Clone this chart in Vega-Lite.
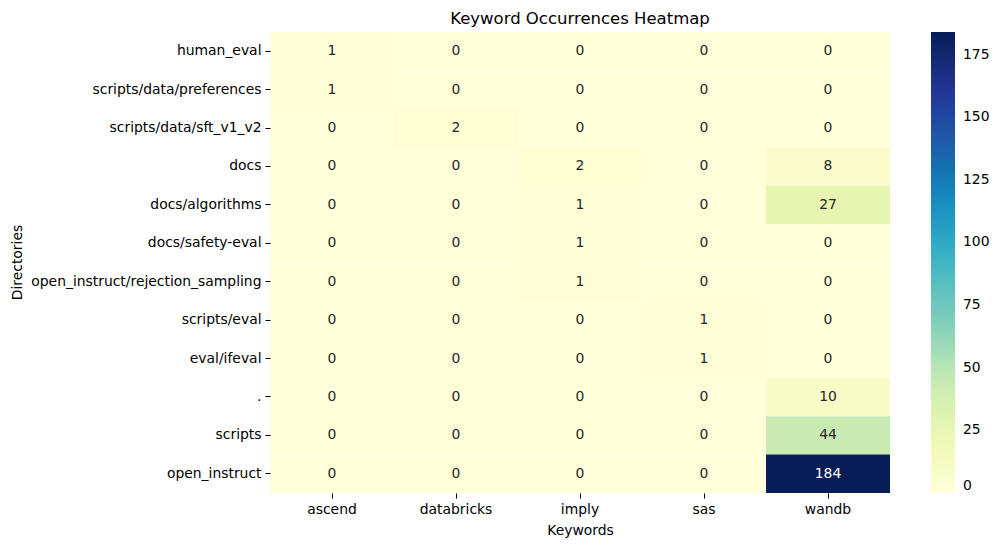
{
  "$schema": "https://vega.github.io/schema/vega-lite/v6.json",
  "title": {
    "text": "Keyword Occurrences Heatmap",
    "fontSize": 16.5,
    "fontWeight": "normal",
    "color": "#000000",
    "offset": 5
  },
  "autosize": {"type": "none"},
  "padding": {"left": 270, "top": 32, "right": 107, "bottom": 54},
  "width": 620,
  "height": 461,
  "background": "#ffffff",
  "config": {
    "font": "DejaVu Sans",
    "view": {"stroke": null}
  },
  "data": {
    "values": [
      {"dir": "human_eval", "keyword": "ascend", "count": 1},
      {"dir": "human_eval", "keyword": "databricks", "count": 0},
      {"dir": "human_eval", "keyword": "imply", "count": 0},
      {"dir": "human_eval", "keyword": "sas", "count": 0},
      {"dir": "human_eval", "keyword": "wandb", "count": 0},
      {"dir": "scripts/data/preferences", "keyword": "ascend", "count": 1},
      {"dir": "scripts/data/preferences", "keyword": "databricks", "count": 0},
      {"dir": "scripts/data/preferences", "keyword": "imply", "count": 0},
      {"dir": "scripts/data/preferences", "keyword": "sas", "count": 0},
      {"dir": "scripts/data/preferences", "keyword": "wandb", "count": 0},
      {"dir": "scripts/data/sft_v1_v2", "keyword": "ascend", "count": 0},
      {"dir": "scripts/data/sft_v1_v2", "keyword": "databricks", "count": 2},
      {"dir": "scripts/data/sft_v1_v2", "keyword": "imply", "count": 0},
      {"dir": "scripts/data/sft_v1_v2", "keyword": "sas", "count": 0},
      {"dir": "scripts/data/sft_v1_v2", "keyword": "wandb", "count": 0},
      {"dir": "docs", "keyword": "ascend", "count": 0},
      {"dir": "docs", "keyword": "databricks", "count": 0},
      {"dir": "docs", "keyword": "imply", "count": 2},
      {"dir": "docs", "keyword": "sas", "count": 0},
      {"dir": "docs", "keyword": "wandb", "count": 8},
      {"dir": "docs/algorithms", "keyword": "ascend", "count": 0},
      {"dir": "docs/algorithms", "keyword": "databricks", "count": 0},
      {"dir": "docs/algorithms", "keyword": "imply", "count": 1},
      {"dir": "docs/algorithms", "keyword": "sas", "count": 0},
      {"dir": "docs/algorithms", "keyword": "wandb", "count": 27},
      {"dir": "docs/safety-eval", "keyword": "ascend", "count": 0},
      {"dir": "docs/safety-eval", "keyword": "databricks", "count": 0},
      {"dir": "docs/safety-eval", "keyword": "imply", "count": 1},
      {"dir": "docs/safety-eval", "keyword": "sas", "count": 0},
      {"dir": "docs/safety-eval", "keyword": "wandb", "count": 0},
      {"dir": "open_instruct/rejection_sampling", "keyword": "ascend", "count": 0},
      {"dir": "open_instruct/rejection_sampling", "keyword": "databricks", "count": 0},
      {"dir": "open_instruct/rejection_sampling", "keyword": "imply", "count": 1},
      {"dir": "open_instruct/rejection_sampling", "keyword": "sas", "count": 0},
      {"dir": "open_instruct/rejection_sampling", "keyword": "wandb", "count": 0},
      {"dir": "scripts/eval", "keyword": "ascend", "count": 0},
      {"dir": "scripts/eval", "keyword": "databricks", "count": 0},
      {"dir": "scripts/eval", "keyword": "imply", "count": 0},
      {"dir": "scripts/eval", "keyword": "sas", "count": 1},
      {"dir": "scripts/eval", "keyword": "wandb", "count": 0},
      {"dir": "eval/ifeval", "keyword": "ascend", "count": 0},
      {"dir": "eval/ifeval", "keyword": "databricks", "count": 0},
      {"dir": "eval/ifeval", "keyword": "imply", "count": 0},
      {"dir": "eval/ifeval", "keyword": "sas", "count": 1},
      {"dir": "eval/ifeval", "keyword": "wandb", "count": 0},
      {"dir": ".", "keyword": "ascend", "count": 0},
      {"dir": ".", "keyword": "databricks", "count": 0},
      {"dir": ".", "keyword": "imply", "count": 0},
      {"dir": ".", "keyword": "sas", "count": 0},
      {"dir": ".", "keyword": "wandb", "count": 10},
      {"dir": "scripts", "keyword": "ascend", "count": 0},
      {"dir": "scripts", "keyword": "databricks", "count": 0},
      {"dir": "scripts", "keyword": "imply", "count": 0},
      {"dir": "scripts", "keyword": "sas", "count": 0},
      {"dir": "scripts", "keyword": "wandb", "count": 44},
      {"dir": "open_instruct", "keyword": "ascend", "count": 0},
      {"dir": "open_instruct", "keyword": "databricks", "count": 0},
      {"dir": "open_instruct", "keyword": "imply", "count": 0},
      {"dir": "open_instruct", "keyword": "sas", "count": 0},
      {"dir": "open_instruct", "keyword": "wandb", "count": 184}
    ]
  },
  "encoding": {
    "x": {
      "field": "keyword",
      "type": "nominal",
      "sort": ["ascend", "databricks", "imply", "sas", "wandb"],
      "title": "Keywords",
      "scale": {"paddingInner": 0, "paddingOuter": 0},
      "axis": {
        "labelAngle": 0,
        "domain": false,
        "ticks": true,
        "tickColor": "#000000",
        "tickSize": 5,
        "labelPadding": 4,
        "labelFontSize": 13.9,
        "labelColor": "#000000",
        "titleFontSize": 13.9,
        "titleFontWeight": "normal",
        "titleColor": "#000000",
        "titlePadding": 8
      }
    },
    "y": {
      "field": "dir",
      "type": "nominal",
      "sort": [
        "human_eval",
        "scripts/data/preferences",
        "scripts/data/sft_v1_v2",
        "docs",
        "docs/algorithms",
        "docs/safety-eval",
        "open_instruct/rejection_sampling",
        "scripts/eval",
        "eval/ifeval",
        ".",
        "scripts",
        "open_instruct"
      ],
      "title": "Directories",
      "scale": {"paddingInner": 0, "paddingOuter": 0},
      "axis": {
        "domain": false,
        "ticks": true,
        "tickColor": "#000000",
        "tickSize": 5,
        "labelPadding": 4,
        "labelFontSize": 13.9,
        "labelColor": "#000000",
        "labelLimit": 400,
        "titleFontSize": 13.9,
        "titleFontWeight": "normal",
        "titleColor": "#000000",
        "titleX": -253,
        "titleY": 230,
        "titleAngle": -90,
        "titleAlign": "center",
        "titleBaseline": "middle"
      }
    }
  },
  "layer": [
    {
      "mark": {"type": "rect", "strokeWidth": 0},
      "encoding": {
        "color": {
          "field": "count",
          "type": "quantitative",
          "scale": {
            "domain": [0, 23, 46, 69, 92, 115, 138, 161, 184],
            "range": ["#ffffd9", "#edf8b1", "#c7e9b4", "#7fcdbb", "#41b6c4", "#1d91c0", "#225ea8", "#253494", "#081d58"]
          },
          "legend": {
            "title": null,
            "orient": "right",
            "offset": 41,
            "padding": 0,
            "direction": "vertical",
            "gradientLength": 461,
            "gradientThickness": 24,
            "gradientStrokeWidth": 0,
            "values": [0, 25, 50, 75, 100, 125, 150, 175],
            "labelFontSize": 13.9,
            "labelColor": "#000000",
            "labelOffset": 8,
            "labelBaseline": "middle",
            "labelOverlap": false
          }
        }
      }
    },
    {
      "mark": {"type": "text", "fontSize": 13.9},
      "encoding": {
        "text": {"field": "count", "type": "quantitative"},
        "color": {
          "condition": {"test": "datum.count > 100", "value": "#ffffff"},
          "value": "#262626"
        }
      }
    }
  ]
}
